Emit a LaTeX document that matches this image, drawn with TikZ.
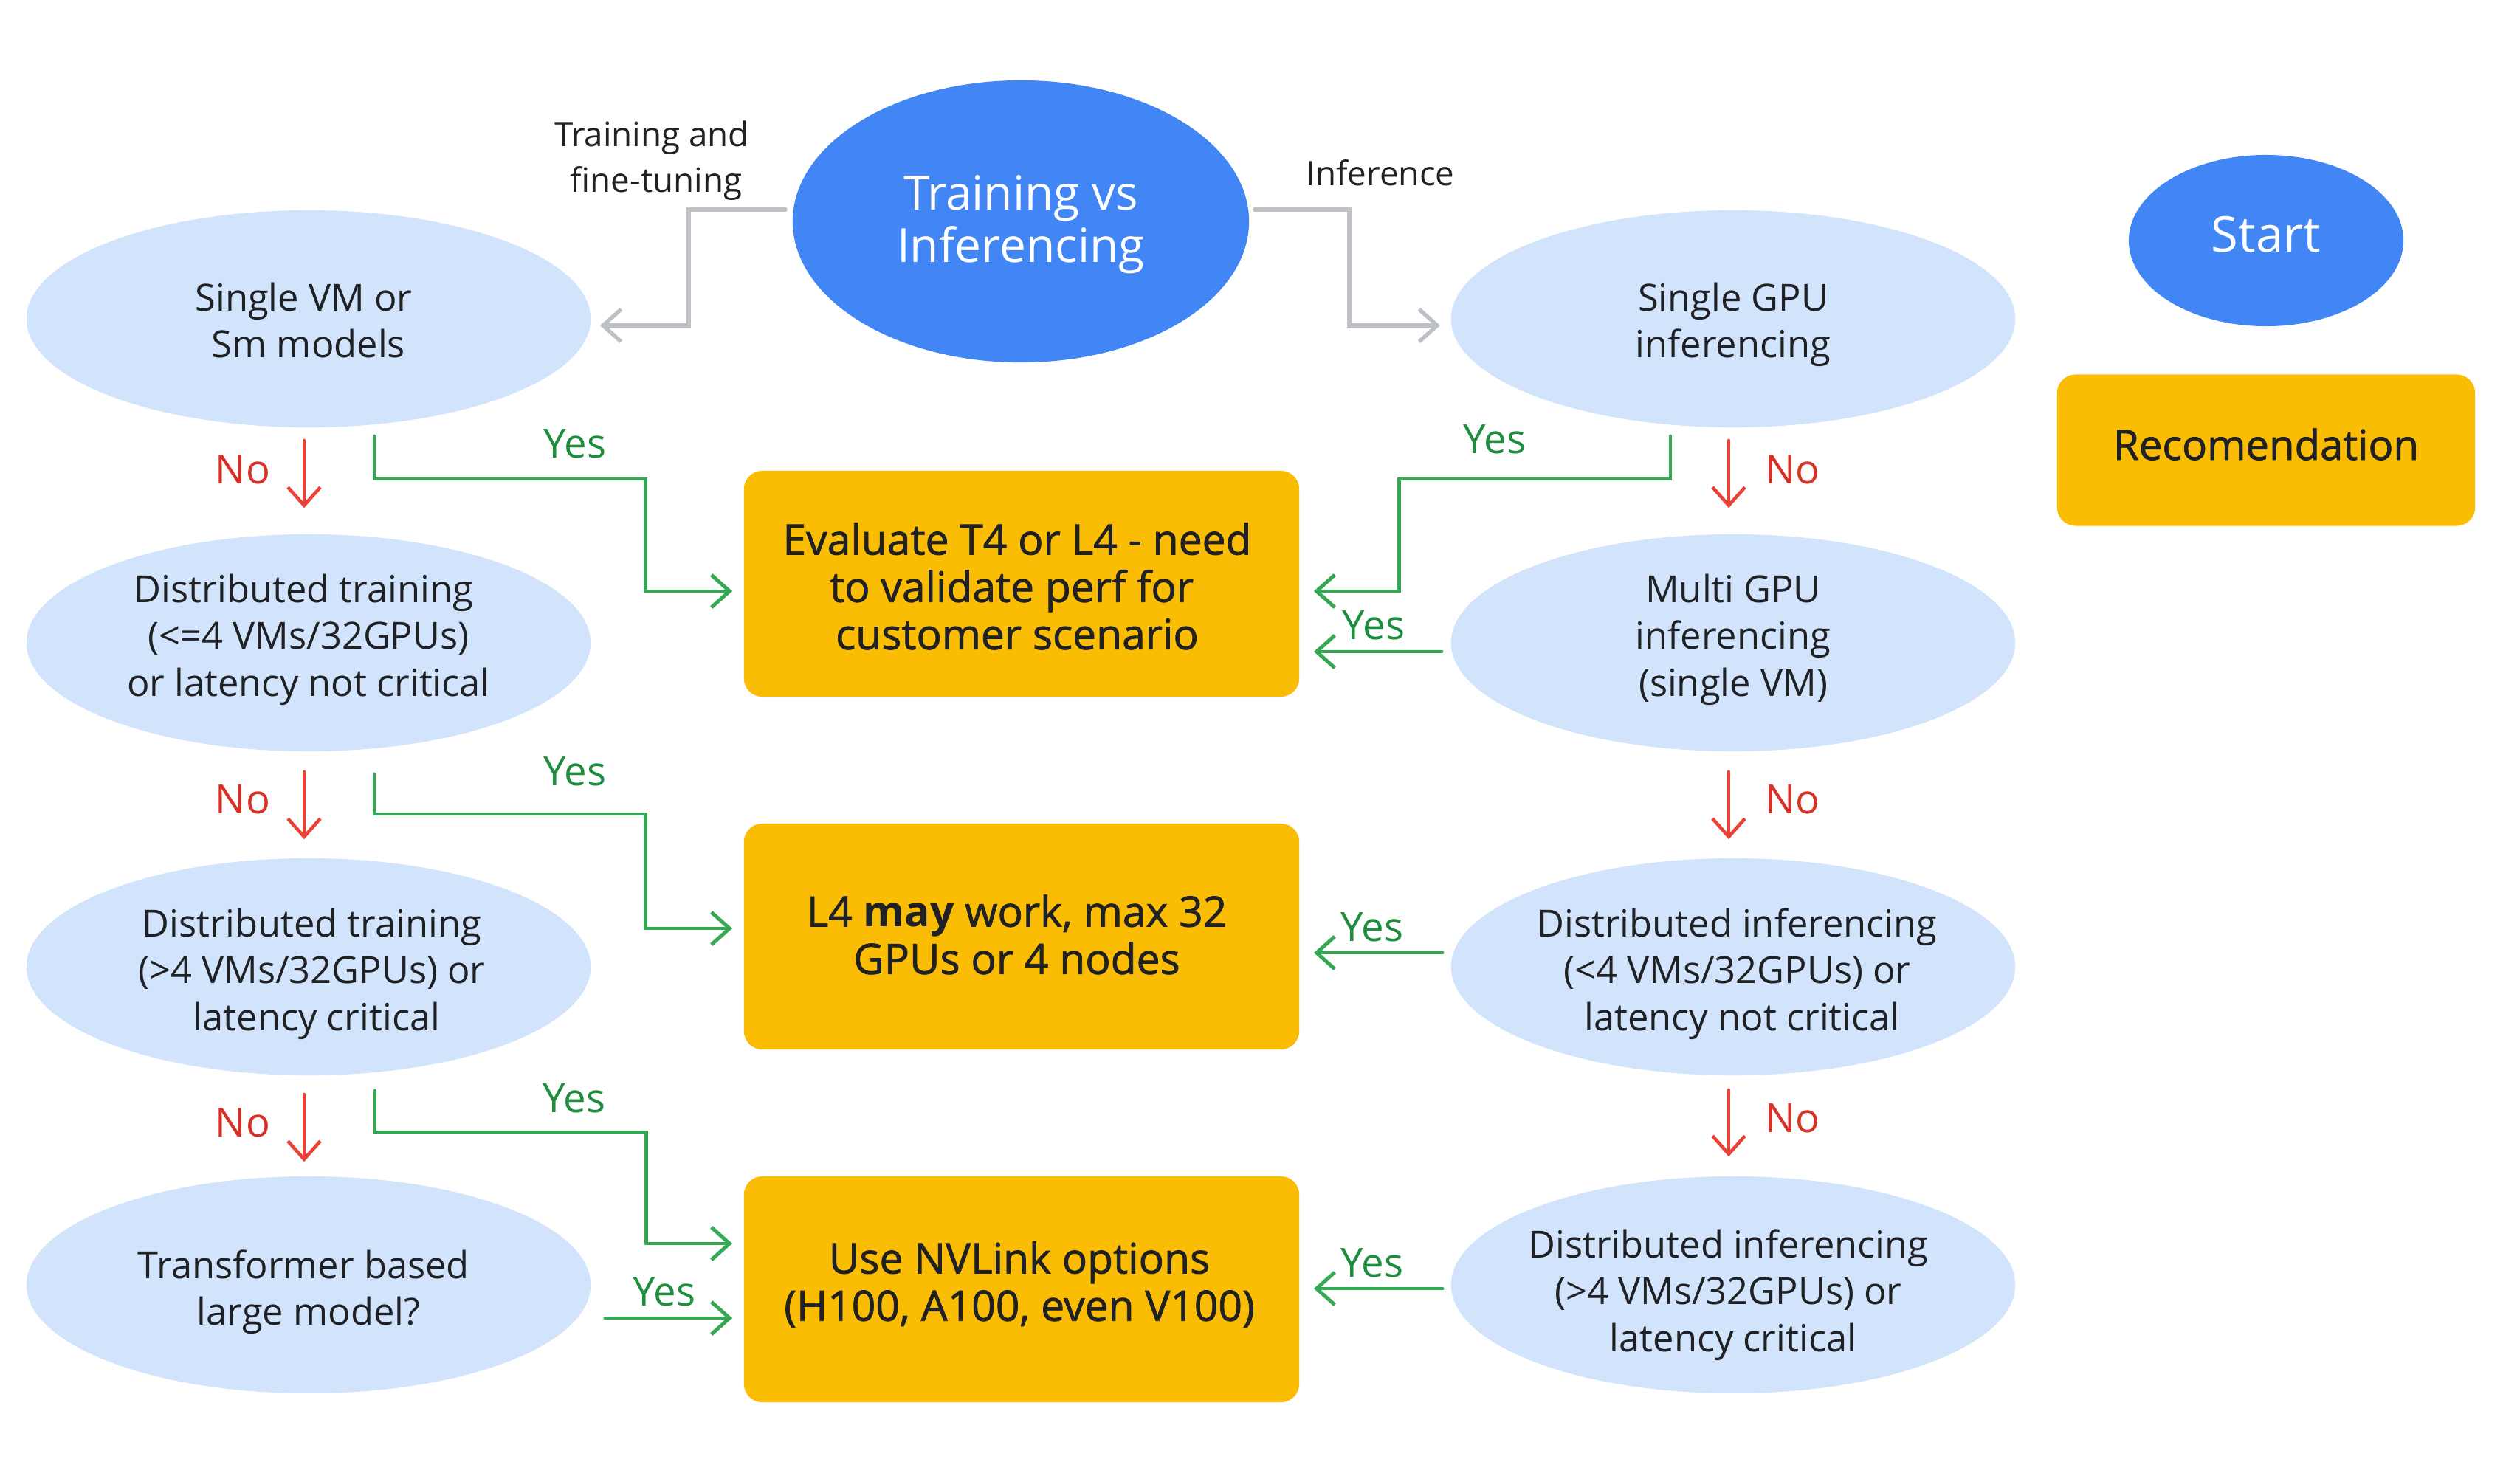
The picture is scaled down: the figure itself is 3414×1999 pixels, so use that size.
\documentclass[tikz,border=0pt]{standalone}
\usepackage{fontspec}
\setmainfont{Open Sans}
\newfontfamily\medfont{Open Sans}[FakeBold=1.3]
\usetikzlibrary{arrows.meta,shapes.geometric,calc}
\definecolor{gblue}{HTML}{4285F4}
\definecolor{lblue}{HTML}{D2E3FC}
\definecolor{gyellow}{HTML}{FBBC04}
\definecolor{ggreen}{HTML}{34A853}
\definecolor{gtgreen}{HTML}{1E8E3E}
\definecolor{gred}{HTML}{EA4335}
\definecolor{gtred}{HTML}{D93025}
\definecolor{ggray}{HTML}{BDC1C6}
\definecolor{gtext}{HTML}{202124}
% centred lines, baseline = first line
\newcommand{\txtlines}[1]{\vtop{\halign{\hfil##\hfil\cr#1\crcr}}}
\tikzset{
  qnode/.style={ellipse, fill=lblue, minimum width=7.64cm, minimum height=2.94cm, inner sep=0pt},
  qtext/.style={anchor=base, inner sep=0pt, text=gtext, font=\fontsize{14.4}{18.15}\selectfont},
  recnode/.style={rectangle, rounded corners=0.25cm, fill=gyellow, inner sep=0pt,
    minimum width=7.52cm, minimum height=3.06cm},
  rectext/.style={anchor=base, inner sep=0pt, text=gtext, font=\medfont\fontsize{16.2}{18.25}\selectfont},
  bignode/.style={ellipse, fill=gblue, inner sep=0pt},
  bigtext/.style={anchor=base, inner sep=0pt, text=white, font=\fontsize{18.2}{20.2}\selectfont},
  yeslab/.style={text=gtgreen, inner sep=0pt, font=\fontsize{15.5}{18}\selectfont},
  nolab/.style={text=gtred, inner sep=0pt, font=\fontsize{15.5}{18}\selectfont},
  plainlab/.style={anchor=base, text=gtext, inner sep=0pt, font=\fontsize{13}{17.9}\selectfont},
  tipbarb/.style={-{Straight Barb[length=7pt,width=12.5pt]}},
  yesline/.style={draw=ggreen, line width=1.4pt, line cap=round, tipbarb},
  noline/.style={draw=gred, line width=1.3pt, line cap=round, tipbarb},
  grayline/.style={draw=ggray, line width=1.5pt, line cap=round, tipbarb},
}
\begin{document}
\begin{tikzpicture}[x=0.01cm,y=-0.01cm]
\useasboundingbox[fill=white] (0,0) rectangle (3414,1999);

% top
\node[bignode, minimum width=6.18cm, minimum height=3.82cm] (T) at (1383,300) {};
\node[bigtext] (Tt) at (1383,284) {\txtlines{Training vs\cr Inferencing}};
\node[bignode, minimum width=3.72cm, minimum height=2.32cm] (S) at (3070,326) {};
\node[bigtext, font=\fontsize{19}{21}\selectfont] (St) at (3070,341) {Start};
\node[recnode, minimum width=5.66cm, minimum height=2.05cm] (RL) at (3070,610) {};
\node[rectext, font=\medfont\fontsize{16}{18}\selectfont] (RLt) at (3070,623) {Recomendation};

% left column
\node[qnode] (L1) at (418,432) {};
\node[qnode] (L2) at (418,871) {};
\node[qnode] (L3) at (418,1310) {};
\node[qnode] (L4) at (418,1741) {};
\node[qtext] (L1t) at (418,421) {\txtlines{Single VM or\ \cr Sm models}};
\node[qtext] (L2t) at (418,816) {\txtlines{Distributed training\ \cr (<=4 VMs/32GPUs)\cr or latency not critical}};
\node[qtext] (L3t) at (429,1269) {\txtlines{Distributed training\ \cr (>4 VMs/32GPUs) or\ \cr latency critical}};
\node[qtext] (L4t) at (418,1732) {\txtlines{Transformer based\ \cr large model?}};

% right column
\node[qnode] (R1) at (2348,432) {};
\node[qnode] (R2) at (2348,871) {};
\node[qnode] (R3) at (2348,1310) {};
\node[qnode] (R4) at (2348,1741) {};
\node[qtext] (R1t) at (2348,421) {\txtlines{Single GPU\cr inferencing}};
\node[qtext] (R2t) at (2348,816) {\txtlines{Multi GPU\cr inferencing\cr (single VM)}};
\node[qtext] (R3t) at (2360,1269) {\txtlines{Distributed inferencing\ \cr (<4 VMs/32GPUs) or\ \cr latency not critical}};
\node[qtext] (R4t) at (2348,1704) {\txtlines{Distributed inferencing\ \cr (>4 VMs/32GPUs) or\ \cr latency critical}};

% recommendations
\node[recnode] (B1) at (1384,791) {};
\node[recnode] (B2) at (1384,1269) {};
\node[recnode] (B3) at (1384,1747) {};
\node[rectext] (B1t) at (1378,751.5) {\txtlines{Evaluate T4 or L4 - need\cr to validate perf for\ \cr customer scenario}};
\node[rectext] (B2t) at (1377.5,1255.6) {\txtlines{L4 {\normalfont\bfseries may} work, max 32\cr GPUs or 4 nodes}};
\node[rectext] (B3t) at (1381,1725.5) {\txtlines{Use NVLink options\cr (H100, A100, even V100)}};

% gray branches
\draw[grayline] ($(T.west)+(-9,-16)$) -| ($(L1.east)+(132,9)$) -- ($(L1.east)+(12,9)$);
\draw[grayline] ($(T.east)+(7,-16)$) -| ($(R1.west)+(-137,9)$) -- ($(R1.west)+(-14,9)$);
\node[plainlab] (lt) at (889,198) {\txtlines{Training and\ \cr fine-tuning}};
\node[plainlab] (li) at (1870,251) {Inference};

% left No arrows
\draw[noline] ($(L1.south)+(-6,17)$) -- ($(L2.north)+(-6,-35)$);
\draw[noline] ($(L2.south)+(-6,27)$) -- ($(L3.north)+(-6,-25)$);
\draw[noline] ($(L3.south)+(-6,25)$) -- ($(L4.north)+(-6,-19)$);
\node[nolab] (n1) at (329,636) {No};
\node[nolab] (n2) at (329,1083) {No};
\node[nolab] (n3) at (329,1521) {No};

% right No arrows
\draw[noline] ($(R1.south)+(-6,17)$) -- ($(R2.north)+(-6,-35)$);
\draw[noline] ($(R2.south)+(-6,27)$) -- ($(R3.north)+(-6,-25)$);
\draw[noline] ($(R3.south)+(-6,19)$) -- ($(R4.north)+(-6,-26)$);
\node[nolab] (n4) at (2428,636) {No};
\node[nolab] (n5) at (2428,1083) {No};
\node[nolab] (n6) at (2428,1515) {No};

% left Yes arrows
\draw[yesline] ($(L1)+(89,159)$) |- ($(B1.west)+(-133,-142)$) |- ($(B1.west)+(-15,10)$);
\draw[yesline] ($(L2)+(89,178)$) |- ($(B2.west)+(-133,-166)$) |- ($(B2.west)+(-15,-11)$);
\draw[yesline] ($(L3)+(90,168)$) |- ($(B3.west)+(-132,-213)$) |- ($(B3.west)+(-15,-62)$);
\draw[yesline] ($(L4.east)+(19,45)$) -- ($(B3.west)+(-15,39)$);
\node[yeslab] (y1) at (779,601) {Yes};
\node[yeslab] (y2) at (779,1045) {Yes};
\node[yeslab] (y3) at (778,1488) {Yes};
\node[yeslab] (y4) at (900,1750) {Yes};

% right Yes arrows
\draw[yesline] ($(R1)+(-85,159)$) |- ($(B1.east)+(135,-142)$) |- ($(B1.east)+(19,10)$);
\draw[yesline] ($(R2.west)+(-12,12)$) -- ($(B1.east)+(19,92)$);
\draw[yesline] ($(R3.west)+(-11,-19)$) -- ($(B2.east)+(19,22)$);
\draw[yesline] ($(R4.west)+(-11,5)$) -- ($(B3.east)+(19,-1)$);
\node[yeslab] (y5) at (2025,595) {Yes};
\node[yeslab] (y6) at (1861,847) {Yes};
\node[yeslab] (y7) at (1859,1256) {Yes};
\node[yeslab] (y8) at (1859,1711) {Yes};
\end{tikzpicture}
\end{document}
